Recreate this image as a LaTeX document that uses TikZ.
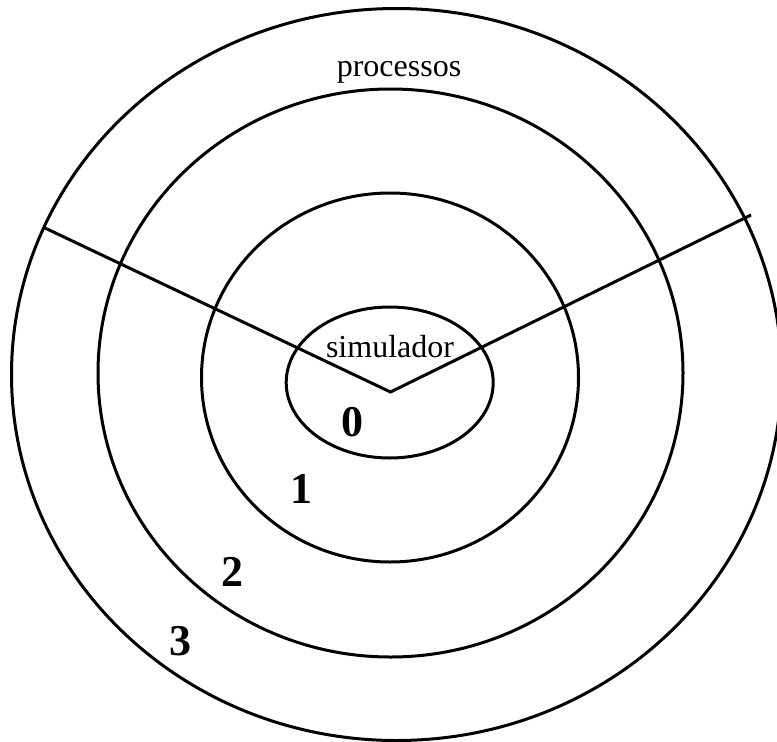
\documentclass[tikz,border=0pt]{standalone}
\usepackage{fontspec}
\setmainfont{Liberation Serif}
\usetikzlibrary{shapes.geometric}
\begin{document}
\begin{tikzpicture}[x=1pt,y=-1pt,
  ring/.style={draw=black, ellipse, line width=3pt, inner sep=0pt},
  lbl/.style={inner sep=0pt, font=\fontsize{32}{36}\selectfont},
  num/.style={inner sep=0pt, font=\fontsize{44}{48}\selectfont\bfseries},
  divider/.style={draw=black, line width=3pt, line join=miter}]
\useasboundingbox[fill=white] (0,0) rectangle (777,742);
\node[ring, minimum width=770pt, minimum height=732pt] (e3) at (396.5,374.5) {};
\node[ring, minimum width=585pt, minimum height=568pt] (e2) at (390.5,373) {};
\node[ring, minimum width=377pt, minimum height=369pt] (e1) at (390,377.5) {};
\node[ring, minimum width=207pt, minimum height=151pt] (e0) at (389.7,382.5) {};
\coordinate (lend) at (45,228);
\coordinate (vtx) at (390.5,392);
\coordinate (rend) at (751,215);
\draw[divider] (lend) -- (vtx) -- (rend);
\node[lbl, anchor=base] (proc) at (399,76) {processos};
\node[lbl, anchor=base] (sim) at (390,357) {simulador};
\node[num] (n0) at (352.5,422.5) {0};
\node[num] (n1) at (301.5,488.5) {1};
\node[num] (n2) at (232.5,572) {2};
\node[num] (n3) at (180.5,641.5) {3};
\end{tikzpicture}
\end{document}
